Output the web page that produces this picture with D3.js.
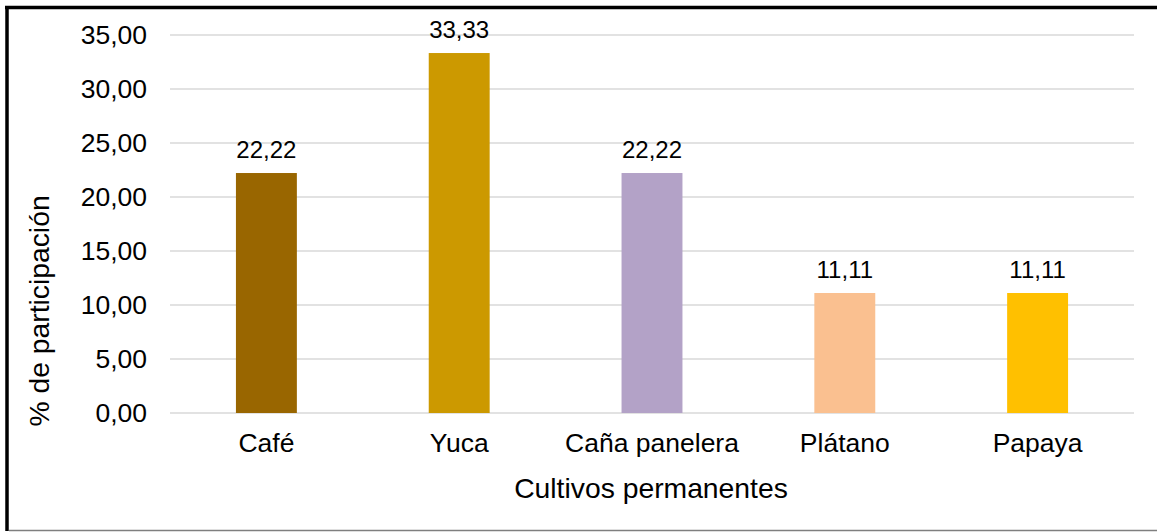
<!DOCTYPE html>
<html>
<head>
<meta charset="utf-8">
<script src="https://cdn.jsdelivr.net/npm/d3@7"></script>
<style>
  body { margin: 0; background: #fff; }
  svg { display: block; font-family: "Liberation Sans", Arial, sans-serif; }
</style>
</head>
<body>
<div id="chart"></div>
<script>
// data
var categories = ["Café", "Yuca", "Caña panelera", "Plátano", "Papaya"];
var values = [22.22, 33.33, 22.22, 11.11, 11.11];
var barColors = ["#996600", "#CC9900", "#B3A2C7", "#FAC090", "#FFC000"];
var yTicks = [0, 5, 10, 15, 20, 25, 30, 35];

var width = 1157, height = 532;
var plot = { left: 170, right: 1134, top: 35, bottom: 413 };

var svg = d3.select("#chart").append("svg")
    .attr("width", width)
    .attr("height", height);

// frame
svg.append("line").attr("x1", 7).attr("x2", 7).attr("y1", 6).attr("y2", 531)
    .attr("stroke", "#000").attr("stroke-width", 3.5);
svg.append("line").attr("x1", 5).attr("x2", width).attr("y1", 7.5).attr("y2", 7.5)
    .attr("stroke", "#000").attr("stroke-width", 3.5);
svg.append("line").attr("x1", 9).attr("x2", width).attr("y1", 530.5).attr("y2", 530.5)
    .attr("stroke", "#7f7f7f").attr("stroke-width", 1.5);

var x = d3.scaleBand()
    .domain(categories)
    .range([plot.left, plot.right])
    .paddingInner(0.684)
    .paddingOuter(0.342);

var y = d3.scaleLinear()
    .domain([0, 35])
    .range([plot.bottom, plot.top]);

// gridlines
svg.append("g")
    .selectAll("line")
    .data(yTicks)
    .enter().append("line")
    .attr("x1", plot.left)
    .attr("x2", plot.right)
    .attr("y1", function (d) { return y(d); })
    .attr("y2", function (d) { return y(d); })
    .attr("stroke", "#d9d9d9")
    .attr("stroke-width", 1.5);

// y axis labels
var fmt = function (d) { return d.toFixed(2).replace(".", ","); };
var yAxis = d3.axisLeft(y).tickValues(yTicks).tickFormat(fmt).tickSize(0).tickPadding(23);
var gy = svg.append("g").attr("transform", "translate(" + plot.left + ",0)").call(yAxis);
gy.select(".domain").remove();
gy.selectAll("text").attr("font-size", 26.5).attr("fill", "#000")
    .attr("font-family", "Liberation Sans, Arial, sans-serif");

// bars
svg.append("g")
    .selectAll("rect")
    .data(values)
    .enter().append("rect")
    .attr("x", function (d, i) { return x(categories[i]); })
    .attr("y", function (d) { return y(d); })
    .attr("width", x.bandwidth())
    .attr("height", function (d) { return y(0) - y(d); })
    .attr("fill", function (d, i) { return barColors[i]; });

// value labels
svg.append("g")
    .selectAll("text")
    .data(values)
    .enter().append("text")
    .attr("x", function (d, i) { return x(categories[i]) + x.bandwidth() / 2; })
    .attr("y", function (d) { return y(d) - 15; })
    .attr("text-anchor", "middle")
    .attr("font-size", 24)
    .attr("fill", "#000")
    .text(fmt);

// x axis labels
var xAxis = d3.axisBottom(x).tickSize(0).tickPadding(20);
var gx = svg.append("g").attr("transform", "translate(0," + plot.bottom + ")").call(xAxis);
gx.select(".domain").remove();
gx.selectAll("text").attr("font-size", 26.5).attr("fill", "#000")
    .attr("font-family", "Liberation Sans, Arial, sans-serif");

// axis titles
svg.append("text")
    .attr("x", 651)
    .attr("y", 498)
    .attr("text-anchor", "middle")
    .attr("font-size", 28.3)
    .text("Cultivos permanentes");

svg.append("text")
    .attr("transform", "translate(49," + 311 + ") rotate(-90)")
    .attr("text-anchor", "middle")
    .attr("font-size", 28.3)
    .text("% de participación");
</script>
</body>
</html>
